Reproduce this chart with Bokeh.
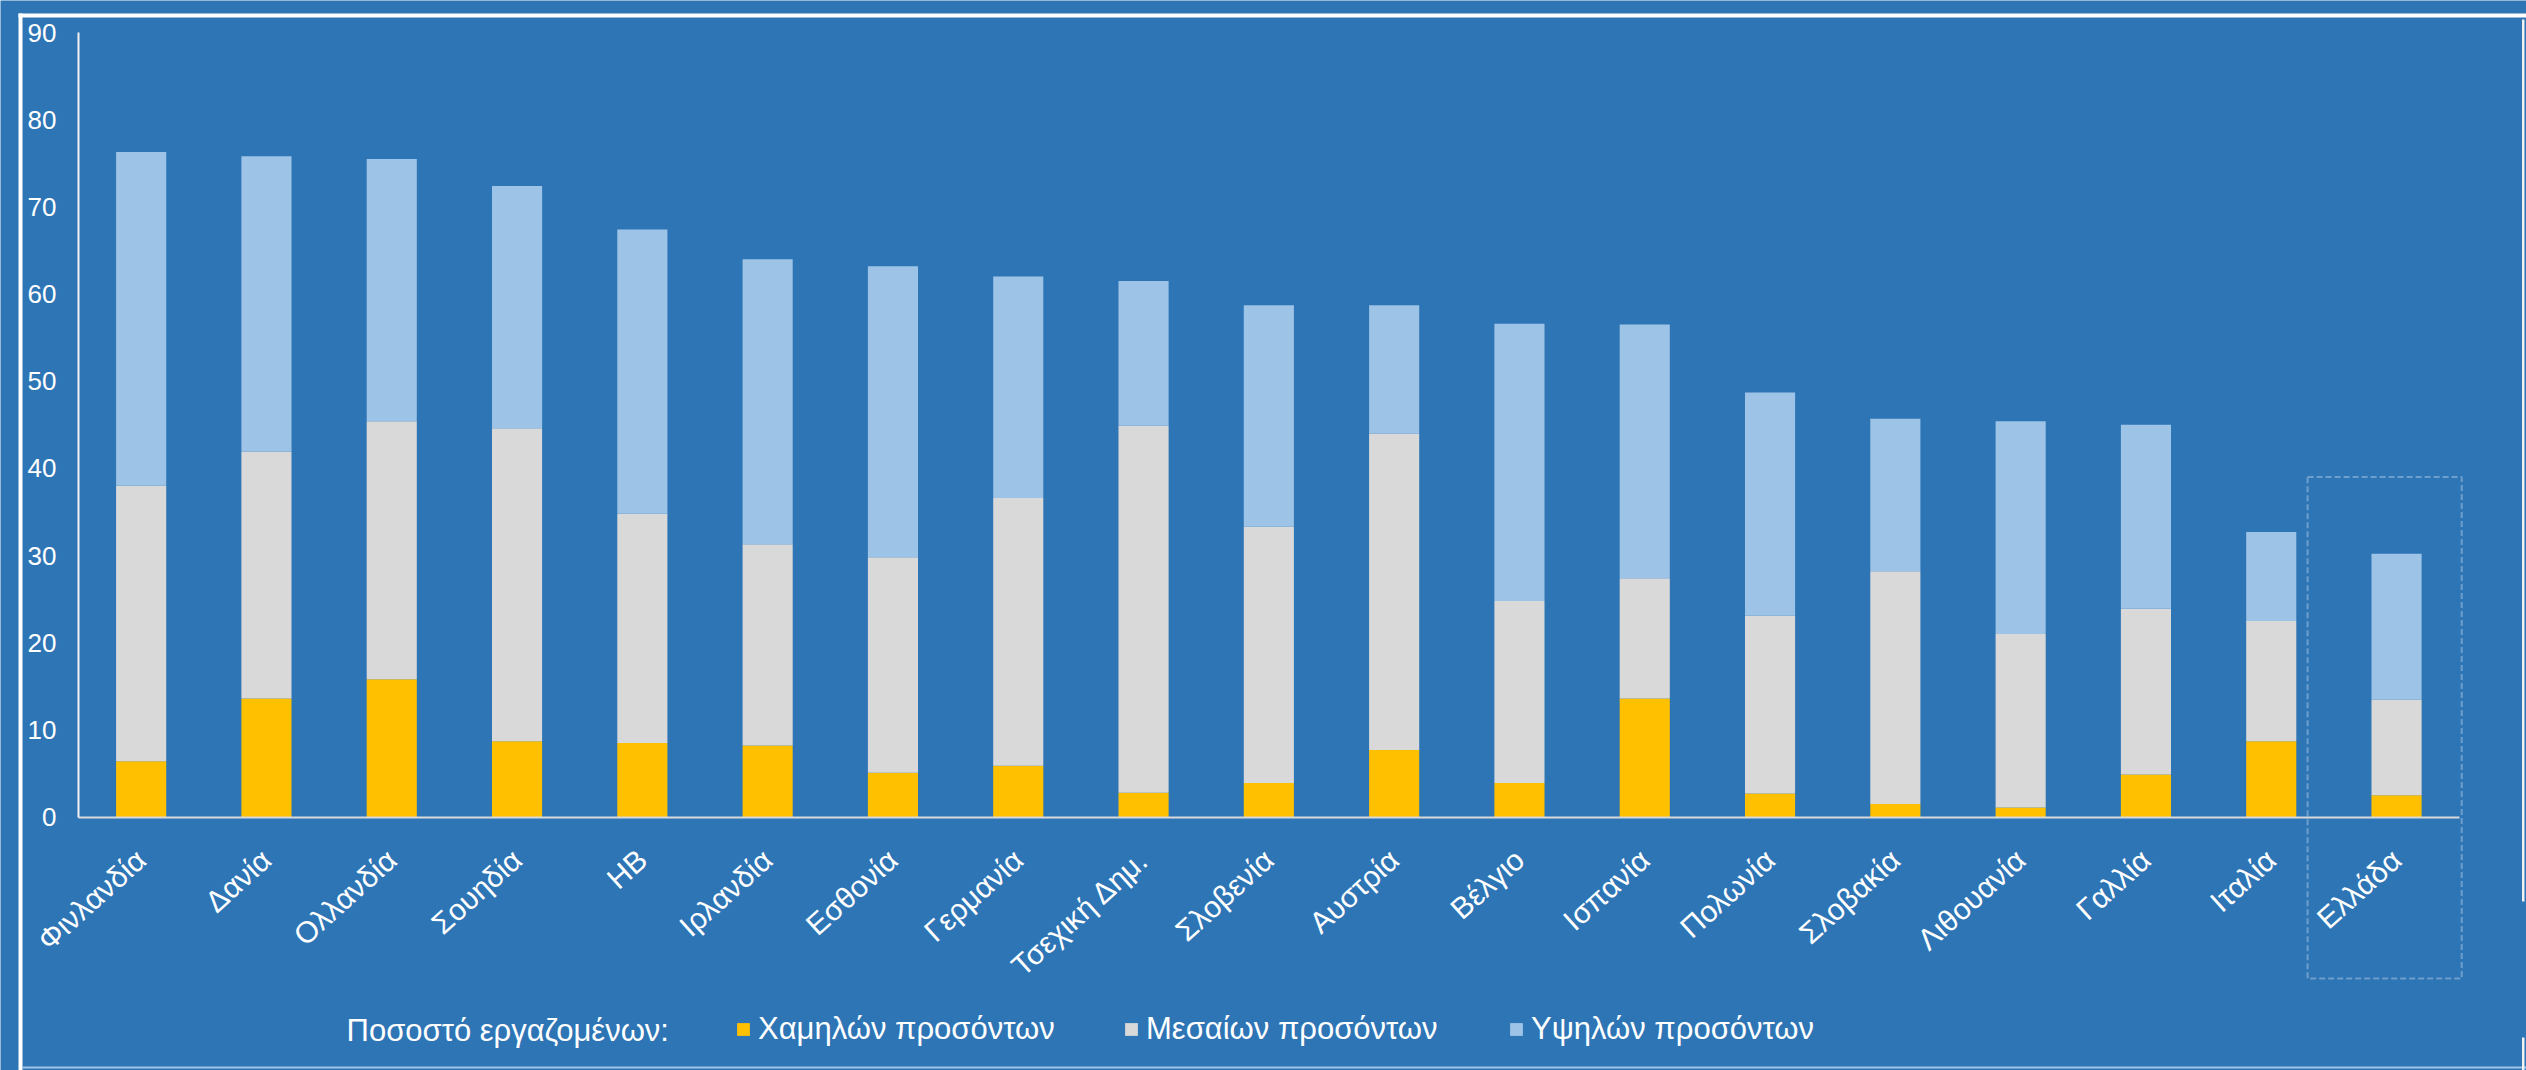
import math
from bokeh.plotting import figure
from bokeh.models import (Range1d, FixedTicker, BoxAnnotation, Legend, LegendItem,
                          Label, ColumnDataSource)
from bokeh.embed import file_html
from bokeh.resources import INLINE

# ---------------- data ----------------
countries = ["Φινλανδία", "Δανία", "Ολλανδία", "Σουηδία", "ΗΒ", "Ιρλανδία", "Εσθονία",
             "Γερμανία", "Τσεχική Δημ.", "Σλοβενία", "Αυστρία", "Βέλγιο", "Ισπανία",
             "Πολωνία", "Σλοβακία", "Λιθουανία", "Γαλλία", "Ιταλία", "Ελλάδα"]
low_skill = [6.4, 13.6, 15.8, 8.7, 8.5, 8.2, 5.1, 5.9, 2.8, 3.9, 7.7, 3.9, 13.6,
             2.7, 1.5, 1.1, 4.9, 8.7, 2.5]
mid_skill = [31.6, 28.3, 29.6, 35.9, 26.3, 23.1, 24.7, 30.7, 42.1, 29.4, 36.3, 20.9, 13.8,
             20.4, 26.7, 19.9, 19.0, 13.8, 11.0]
high_skill = [38.3, 33.9, 30.1, 27.8, 32.6, 32.7, 33.4, 25.4, 16.6, 25.4, 14.7, 31.8, 29.1,
              25.6, 17.5, 24.4, 21.1, 10.2, 16.7]
series_names = ["Χαμηλών προσόντων", "Μεσαίων προσόντων", "Υψηλών προσόντων"]
legend_title = "Ποσοστό εργαζομένων:"
y_ticks = [0, 10, 20, 30, 40, 50, 60, 70, 80, 90]
y_max = 90

# ---------------- style / layout ----------------
BG = "#2E75B6"
COLORS = ["#FFC000", "#D9D9D9", "#9DC3E6"]
FONT = "Liberation Sans"

W, H = 2526, 1070
X0 = 78.0          # pixel of y-axis line (left edge of category area)
UNIT_X = 125.3     # pixels per category
Y0 = 816.6         # pixel of value 0
UNIT_Y = (Y0 - 32.0) / y_max


def px_x(X):
    return (X - X0) / UNIT_X - 0.5


def px_y(Y):
    return (Y0 - Y) / UNIT_Y


n = len(countries)
idx = list(range(n))
src = ColumnDataSource(dict(x=idx, low=low_skill, mid=mid_skill, high=high_skill))

p = figure(width=W, height=H, output_backend="svg", toolbar_location=None,
           x_range=Range1d(px_x(0), px_x(W)), y_range=Range1d(px_y(H), px_y(0)),
           min_border=0, min_border_left=0, min_border_right=0,
           min_border_top=0, min_border_bottom=0)
p.background_fill_color = BG
p.border_fill_color = BG
p.outline_line_color = None
p.grid.visible = False

renderers = p.vbar_stack(["low", "mid", "high"], x="x", width=0.4, source=src,
                         color=COLORS, line_color=None)

# y axis
ya = p.yaxis[0]
ya.fixed_location = -0.5
ya.bounds = (0, y_max)
ya.ticker = FixedTicker(ticks=y_ticks)
ya.axis_line_color = "#F2F2F2"
ya.axis_line_width = 2
ya.major_tick_line_color = None
ya.minor_tick_line_color = None
ya.major_tick_out = 0
ya.minor_tick_out = 0
ya.major_label_standoff = 22
ya.major_label_text_color = "white"
ya.major_label_text_font = FONT
ya.major_label_text_font_size = "26px"

# x axis
xa = p.xaxis[0]
xa.fixed_location = 0
xa.bounds = (-0.5, n - 0.5)
xa.ticker = FixedTicker(ticks=idx)
xa.major_label_overrides = {i: c for i, c in enumerate(countries)}
xa.major_label_orientation = math.radians(42)
xa.axis_line_color = "#D9D9D9"
xa.axis_line_width = 2
xa.major_tick_line_color = None
xa.minor_tick_line_color = None
xa.major_tick_out = 0
xa.minor_tick_out = 0
xa.major_label_standoff = 38
xa.major_label_text_color = "white"
xa.major_label_text_font = FONT
xa.major_label_text_font_size = "30px"


def px_box(xl, xr, yt, yb, color):
    return BoxAnnotation(left=px_x(xl), right=px_x(xr), top=px_y(yt), bottom=px_y(yb),
                         fill_color=color, fill_alpha=1.0, line_color=None, level="overlay")


# outer frame lines of the picture
p.add_layout(px_box(18, W, 13, 17, "white"))
p.add_layout(px_box(18, 22, 13, H, "white"))
p.add_layout(px_box(22, W, 1066, 1068, "#9DC3E6"))
p.add_layout(px_box(2521.5, 2524, 19, 901, "#F2F2F2"))
p.add_layout(px_box(2521.5, 2524, 1037, H, "#F2F2F2"))

# dashed highlight around Greece
p.add_layout(BoxAnnotation(left=n - 1 - 0.71, right=n - 1 + 0.52, top=39.0, bottom=px_y(978),
                           fill_alpha=0, line_color="white", line_width=2, line_dash="6 3",
                           level="overlay"))

# legend (title + three items placed individually)
LEG_CY = 1030
LEG_FS = "31px"
p.add_layout(Label(x=px_x(346), y=px_y(LEG_CY), text=legend_title,
                   text_color="white", text_font=FONT, text_font_size=LEG_FS,
                   text_baseline="middle", text_align="left"))
for r, name, gx in zip(renderers, series_names, [735, 1123, 1508]):
    leg = Legend(items=[LegendItem(label=name, renderers=[r])],
                 location=(gx, H - LEG_CY - 17),
                 orientation="horizontal", glyph_width=16, glyph_height=16, label_standoff=7,
                 padding=0, margin=0, spacing=0, background_fill_alpha=0, border_line_color=None,
                 label_text_color="white", label_text_font=FONT, label_text_font_size=LEG_FS,
                 label_height=34)
    p.add_layout(leg)

open("out.html", "w").write(file_html(p, INLINE))
